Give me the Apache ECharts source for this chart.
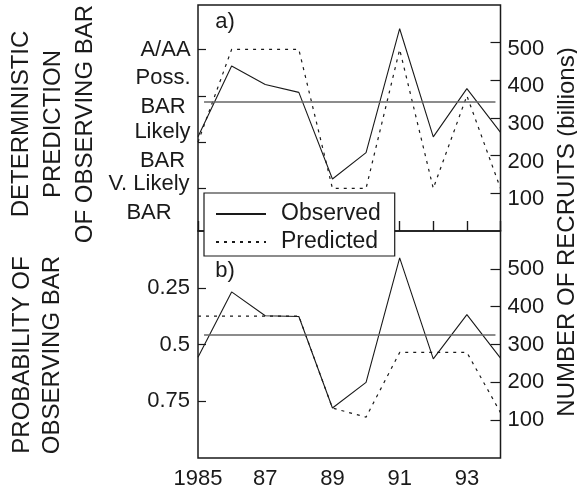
<!DOCTYPE html>
<html>
<head>
<meta charset="utf-8">
<script src="https://cdn.jsdelivr.net/npm/echarts@6/dist/echarts.min.js"></script>
<style>
  html, body { margin: 0; padding: 0; background: #fff; }
  #chart { width: 577px; height: 495px; }
</style>
</head>
<body>
<div id="chart"></div>
<script>
// years on the shared x axis
const years = [1985, 1986, 1987, 1988, 1989, 1990, 1991, 1992, 1993, 1994];
const yearTicks = [1985, 1987, 1989, 1991, 1993];
const yearTickLabels = ['1985', '87', '89', '91', '93'];

// panel a) recruits (billions) and deterministic prediction level
const observedA = [250, 438, 389, 368, 138, 208, 537, 250, 378, 262];
const predictedA = [2, 4, 4, 4, 1, 1, 4, 1, 3, 1];
const levelTicks = [1, 2, 3, 4];
const levelLabels = ['V. Likely\nBAR', 'Likely\nBAR', 'Poss.\nBAR', 'A/AA'];
const thresholdA = 343;

// panel b) recruits (billions) and probability of observing BAR
const observedB = [266, 439, 376, 374, 132, 200, 529, 262, 379, 264];
const predictedB = [0.375, 0.375, 0.375, 0.375, 0.78, 0.82, 0.535, 0.535, 0.535, 0.8];
const probTicks = [0.25, 0.5, 0.75];
const probLabels = ['0.25', '0.5', '0.75'];
const thresholdB = 325;

const recruitTicks = [100, 200, 300, 400, 500];

const FONT = "'Liberation Sans', Arial, Helvetica, sans-serif";
const INK = '#1a1a1a';

// small nudges so the two-line level labels sit where the original put them
const levelLabelShift = [-0.22, -0.1, 0.07, 0];
const levelLabelAt = levelTicks.map((t, i) => t + levelLabelShift[i]);
const levelRich = ['v', 'l', 'p', 'a'];

const chart = echarts.init(document.getElementById('chart'));

const tick = { show: true, inside: true, length: 10, lineStyle: { color: INK, width: 1.2 } };
const labelText = { color: INK, fontSize: 22, fontFamily: FONT };

const xAxisBase = {
  type: 'value',
  min: 1985,
  max: 1994,
  interval: 1,
  axisLine: { show: false },
  axisTick: tick,
  splitLine: { show: false }
};

// the upper panel's recruit labels sit a little below their ticks in the original
const recruitAxis = (gridIndex, labelPad) => ({
  type: 'value',
  gridIndex,
  position: 'right',
  min: 0,
  max: 600,
  axisLine: { show: false },
  axisTick: { ...tick, customValues: recruitTicks },
  axisLabel: {
    ...labelText,
    margin: 7,
    customValues: recruitTicks,
    formatter: (v) => `{r|${v}}`,
    rich: { r: { ...labelText, padding: [labelPad, 0, 0, 0] } }
  },
  splitLine: { show: false }
});

const toPoints = (vals) => years.map((y, i) => [y, vals[i]]);

const thresholdLine = (value) => ({
  silent: true,
  symbol: 'none',
  label: { show: false },
  lineStyle: { color: '#666', width: 1.6, type: 'solid' },
  data: [[{ coord: [1985.18, value] }, { coord: [1993.85, value] }]]
});

const solid = { color: INK, width: 1.1 };
const dotted = { color: INK, width: 1.2, type: [3, 5] };

const rich = (w) => ({ ...labelText, width: w, align: 'center', lineHeight: 29 });

chart.setOption({
  animation: false,
  backgroundColor: '#fff',
  textStyle: { fontFamily: FONT },
  grid: [
    { left: 198, top: 5, width: 302.5, height: 226, show: true, borderColor: INK, borderWidth: 1.5 },
    { left: 198, top: 231, width: 302.5, height: 227, show: true, borderColor: INK, borderWidth: 1.5 }
  ],
  xAxis: [
    { ...xAxisBase, gridIndex: 0, axisLabel: { show: false } },
    {
      ...xAxisBase,
      gridIndex: 1,
      axisLabel: {
        ...labelText,
        margin: 10,
        customValues: yearTicks,
        formatter: (v) => yearTickLabels[yearTicks.indexOf(v)] ?? ''
      }
    }
  ],
  yAxis: [
    {
      type: 'value',
      gridIndex: 0,
      position: 'left',
      min: 0.08,
      max: 4.96,
      axisLine: { show: false },
      axisTick: { ...tick, length: 8, customValues: levelTicks },
      axisLabel: {
        ...labelText,
        margin: 7,
        customValues: levelLabelAt,
        formatter: (v) => {
          const i = levelLabelAt.findIndex((t) => Math.abs(t - v) < 0.01);
          if (i < 0) return '';
          const key = levelRich[i];
          return levelLabels[i].split('\n').map((s) => `{${key}|${s}}`).join('\n');
        },
        rich: { v: rich(84), l: rich(57), p: rich(56), a: rich(51) }
      },
      splitLine: { show: false }
    },
    recruitAxis(0, 12),
    {
      type: 'value',
      gridIndex: 1,
      position: 'left',
      inverse: true,
      min: 0,
      max: 1,
      axisLine: { show: false },
      axisTick: { ...tick, length: 8, customValues: probTicks },
      axisLabel: {
        ...labelText,
        margin: 8,
        customValues: probTicks,
        formatter: (v) => probLabels[probTicks.indexOf(v)] ?? ''
      },
      splitLine: { show: false }
    },
    recruitAxis(1, 0)
  ],
  legend: {
    data: ['Observed', 'Predicted'],
    orient: 'vertical',
    left: 204,
    top: 193,
    itemWidth: 50,
    itemHeight: 14,
    itemGap: 0,
    padding: [7, 14, 0, 11],
    backgroundColor: '#fff',
    borderColor: INK,
    borderWidth: 1.2,
    selectedMode: false,
    itemStyle: { opacity: 0 },
    textStyle: { color: INK, fontSize: 23, fontFamily: FONT, lineHeight: 28, padding: [0, 0, 0, 10] }
  },
  graphic: [
    {
      type: 'text', x: 53, y: 124, rotation: Math.PI / 2,
      style: { text: 'DETERMINISTIC\nPREDICTION\nOF OBSERVING BAR', font: `24px ${FONT}`, fill: INK, align: 'center', verticalAlign: 'middle', lineHeight: 32 }
    },
    {
      type: 'text', x: 37, y: 355, rotation: Math.PI / 2,
      style: { text: 'PROBABILITY OF\nOBSERVING BAR', font: `24px ${FONT}`, fill: INK, align: 'center', verticalAlign: 'middle', lineHeight: 30 }
    },
    {
      type: 'text', x: 567, y: 232, rotation: Math.PI / 2,
      style: { text: 'NUMBER OF RECRUITS (billions)', font: `24px ${FONT}`, fill: INK, align: 'center', verticalAlign: 'middle' }
    },
    {
      type: 'text', x: 225, y: 22,
      style: { text: 'a)', font: `22px ${FONT}`, fill: INK, align: 'center', verticalAlign: 'middle' }
    },
    {
      type: 'text', x: 225, y: 271,
      style: { text: 'b)', font: `22px ${FONT}`, fill: INK, align: 'center', verticalAlign: 'middle' }
    }
  ],
  series: [
    {
      name: 'Observed', type: 'line', xAxisIndex: 0, yAxisIndex: 1,
      data: toPoints(observedA), symbol: 'none', lineStyle: solid, itemStyle: { color: INK },
      markLine: thresholdLine(thresholdA)
    },
    {
      name: 'Predicted', type: 'line', xAxisIndex: 0, yAxisIndex: 0,
      data: toPoints(predictedA), symbol: 'none', lineStyle: dotted, itemStyle: { color: INK }
    },
    {
      name: 'Observed', type: 'line', xAxisIndex: 1, yAxisIndex: 3,
      data: toPoints(observedB), symbol: 'none', lineStyle: solid, itemStyle: { color: INK },
      markLine: thresholdLine(thresholdB)
    },
    {
      name: 'Predicted', type: 'line', xAxisIndex: 1, yAxisIndex: 2,
      data: toPoints(predictedB), symbol: 'none', lineStyle: dotted, itemStyle: { color: INK }
    }
  ]
});
</script>
</body>
</html>
